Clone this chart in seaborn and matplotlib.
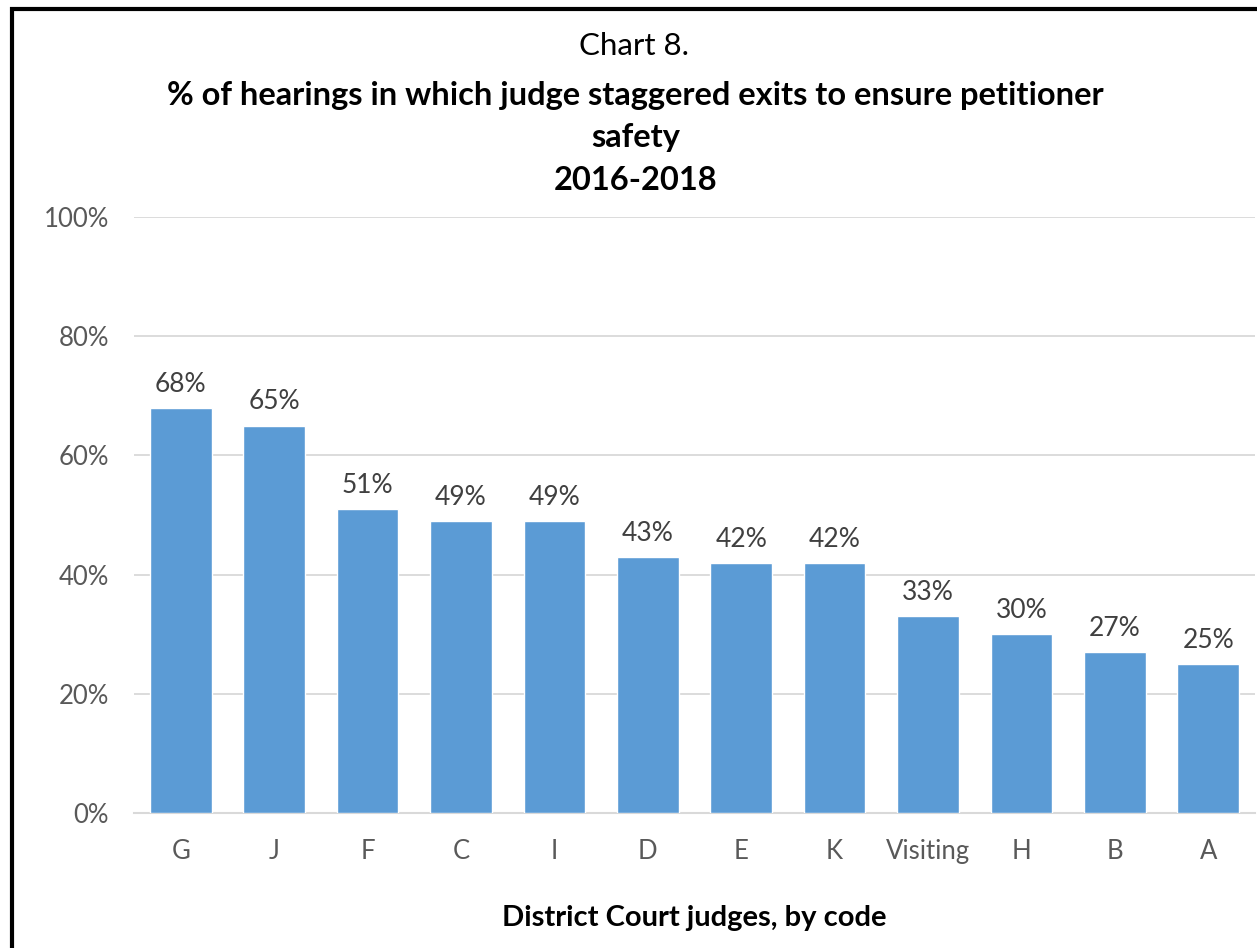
import matplotlib
matplotlib.use("Agg")
import matplotlib.pyplot as plt
import matplotlib.patches as mpatches
import seaborn as sns
import pandas as pd

judges = ["G", "J", "F", "C", "I", "D", "E", "K", "Visiting", "H", "B", "A"]
pct_staggered = [68, 65, 51, 49, 49, 43, 42, 42, 33, 30, 27, 25]
y_ticks = [0, 20, 40, 60, 80, 100]

df = pd.DataFrame({"judge": judges, "pct": pct_staggered})

sns.set_theme(style="white")
plt.rcParams["font.family"] = ["Lato", "DejaVu Sans"]

W, H = 1257, 948
fig = plt.figure(figsize=(W / 100, H / 100), dpi=100)
ax = fig.add_axes([134 / W, 1 - 813 / H, (1255 - 134) / W, (813 - 217) / H])

bar_color = "#5b9bd5"
sns.barplot(data=df, x="judge", y="pct", color=bar_color, width=0.66,
            saturation=1, ax=ax, zorder=3)

ax.set_ylim(0, 100)
ax.set_xlim(-0.5, len(judges) - 0.5)
ax.set_yticks(y_ticks)
ax.set_yticklabels([f"{t}%" for t in y_ticks])
ax.yaxis.grid(True, color="#d9d9d9", linewidth=1.3, zorder=0)
ax.set_axisbelow(True)
for side in ["top", "right", "left"]:
    ax.spines[side].set_visible(False)
ax.spines["bottom"].set_color("#d9d9d9")
ax.spines["bottom"].set_linewidth(1.5)
ax.tick_params(axis="both", length=0, labelsize=18.5, colors="#595959")
ax.tick_params(axis="y", pad=18)
ax.tick_params(axis="x", pad=19)
ax.set_ylabel("")
ax.set_xlabel("District Court judges, by code", fontsize=21, fontweight="bold",
              color="black", labelpad=29)

for i, v in enumerate(pct_staggered):
    ax.annotate(f"{v}%", (i, v), xytext=(0, 8), textcoords="offset points",
                ha="center", va="bottom", fontsize=19, color="#404040")

fig.text(634 / W, 1 - 46 / H, "Chart 8.", ha="center", va="center",
         fontsize=22.5, color="black")
fig.text(635 / W, 1 - 95 / H, "% of hearings in which judge staggered exits to ensure petitioner",
         ha="center", va="center", fontsize=23.5, fontweight="bold", color="black")
fig.text(636 / W, 1 - 137 / H, "safety", ha="center", va="center",
         fontsize=23.5, fontweight="bold", color="black")
fig.text(636 / W, 1 - 180 / H, "2016-2018", ha="center", va="center",
         fontsize=23.5, fontweight="bold", color="black")

# chart frame
frame = mpatches.Rectangle((12 / W, -0.2), 1.3, 1.2 - 9 / H,
                           transform=fig.transFigure, fill=False,
                           edgecolor="black", linewidth=3, clip_on=False)
fig.patches.append(frame)

fig.savefig("out.png", dpi=100, facecolor="white")
